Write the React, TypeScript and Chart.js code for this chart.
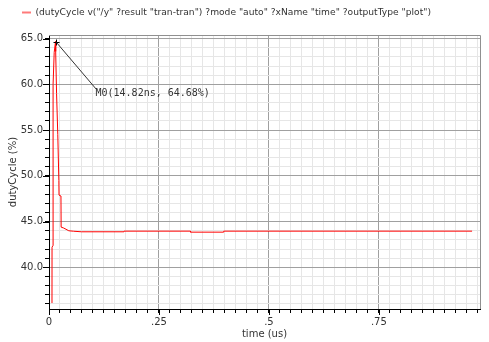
import React, { useEffect, useRef } from "react";
import { Chart, registerables } from "chart.js";

Chart.register(...registerables);

// ---- data ----
const timeUs = [
  0.0068, 0.0069, 0.0091, 0.0093, 0.0118, 0.01482, 0.0152, 0.0172, 0.02, 0.0224,
  0.0228, 0.0272, 0.0276, 0.0335, 0.045, 0.056, 0.074, 0.1705, 0.1707, 0.3216,
  0.3218, 0.3971, 0.3973, 0.962,
];
const dutyPct = [
  36.1, 42.2, 42.4, 60.0, 63.5, 64.68, 63.6, 59.0, 54.5, 49.5,
  47.9, 47.8, 44.4, 44.3, 44.0, 43.95, 43.89, 43.89, 43.96, 43.96,
  43.85, 43.85, 43.96, 43.96,
];
const xMajorTicks = [0, 0.25, 0.5, 0.75];
const xMajorLabels = ["0", ".25", ".5", ".75"];
const yMajorTicks = [40, 45, 50, 55, 60, 65];
const yMajorLabels = ["40.0", "45.0", "50.0", "55.0", "60.0", "65.0"];
const legendText =
  '(dutyCycle v("/y" ?result "tran-tran") ?mode "auto" ?xName "time" ?outputType "plot")';
const markerTime = 0.01482;
const markerValue = 64.68;
const markerText = "M0(14.82ns, 64.68%)";

const X_MIN = 0;
const X_MAX = 0.98;
const Y_MIN = 35.45;
const Y_MAX = 65.4;

const near = (a: number, b: number) => Math.abs(a - b) < 1e-6;
const xMajorIndex = (v: number) => xMajorTicks.findIndex((m) => near(m, v));
const yMajorIndex = (v: number) => yMajorTicks.findIndex((m) => near(m, v));

const MAJOR_GRID = "#a0a0a0";
const MINOR_GRID = "#e6e6e6";
const TEXT = "#333333";
const SANS = "'DejaVu Sans', sans-serif";

const overlayPlugin = {
  id: "overlay",
  afterDraw(chart: any) {
    const ctx = chart.ctx as CanvasRenderingContext2D;
    const { left, right, top, bottom } = chart.chartArea;
    const xs = chart.scales.x;
    const ys = chart.scales.y;
    ctx.save();
    // top / right frame
    ctx.strokeStyle = "#909090";
    ctx.lineWidth = 1;
    ctx.beginPath();
    ctx.moveTo(left, top + 0.5);
    ctx.lineTo(right + 0.5, top + 0.5);
    ctx.lineTo(right + 0.5, bottom);
    ctx.stroke();

    // longer major tick marks
    ctx.strokeStyle = "#000000";
    ctx.beginPath();
    xMajorTicks.forEach((v) => {
      const px = Math.round(xs.getPixelForValue(v)) + 0.5;
      ctx.moveTo(px, bottom);
      ctx.lineTo(px, bottom + 6);
    });
    yMajorTicks.forEach((v) => {
      const py = Math.round(ys.getPixelForValue(v)) + 0.5;
      ctx.moveTo(left, py);
      ctx.lineTo(left - 6, py);
    });
    ctx.stroke();

    // legend
    ctx.strokeStyle = "#ff7a7a";
    ctx.lineWidth = 2;
    ctx.beginPath();
    ctx.moveTo(22, 12.5);
    ctx.lineTo(31, 12.5);
    ctx.stroke();
    ctx.fillStyle = TEXT;
    ctx.font = "9.15px " + SANS;
    ctx.textBaseline = "middle";
    ctx.textAlign = "left";
    ctx.fillText(legendText, 35.5, 12.5);

    // marker
    const mx = Math.round(xs.getPixelForValue(markerTime)) + 0.5;
    const my = Math.round(ys.getPixelForValue(markerValue)) + 0.5;
    ctx.strokeStyle = "#000000";
    ctx.lineWidth = 1;
    ctx.beginPath();
    ctx.moveTo(mx - 3, my);
    ctx.lineTo(mx + 3, my);
    ctx.moveTo(mx, my - 3);
    ctx.lineTo(mx, my + 3);
    ctx.stroke();
    ctx.strokeStyle = "#333333";
    ctx.beginPath();
    ctx.moveTo(mx, my);
    ctx.lineTo(mx + 40, my + 47);
    ctx.stroke();
    ctx.fillStyle = TEXT;
    ctx.font = "10px 'DejaVu Sans Mono', monospace";
    ctx.textBaseline = "middle";
    ctx.fillText(markerText, mx + 39, my + 51);
    ctx.restore();
  },
};

export default function App() {
  const ref = useRef<HTMLCanvasElement | null>(null);

  useEffect(() => {
    if (!ref.current) return;
    const points = timeUs.map((t, i) => ({ x: t, y: dutyPct[i] }));
    const chart = new Chart(ref.current, {
      type: "line",
      data: {
        datasets: [
          {
            label: legendText,
            data: points,
            borderColor: "#ff0000",
            borderWidth: 1,
            pointRadius: 0,
            tension: 0,
            fill: false,
          },
        ],
      },
      options: {
        animation: false,
        responsive: false,
        maintainAspectRatio: false,
        layout: { padding: { top: 35, right: 9, left: 0, bottom: 0 } },
        plugins: {
          legend: { display: false },
          tooltip: { enabled: false },
        },
        scales: {
          x: {
            type: "linear",
            min: X_MIN,
            max: X_MAX,
            afterBuildTicks: (scale: any) => {
              const ticks = [];
              for (let i = 0; i <= 39; i++) ticks.push({ value: Math.round(i * 25) / 1000 });
              scale.ticks = ticks;
            },
            afterFit: (scale: any) => {
              scale.height = 33;
            },
            ticks: {
              autoSkip: false,
              maxRotation: 0,
              padding: 3,
              color: TEXT,
              font: { family: SANS, size: 10 },
              callback: (v: any) => {
                const i = xMajorIndex(Number(v));
                return i >= 0 ? xMajorLabels[i] : "";
              },
            },
            grid: {
              color: (c: any) => (xMajorIndex(c.tick?.value) >= 0 ? MAJOR_GRID : MINOR_GRID),
              tickColor: "#000000",
              tickLength: 4,
            },
            border: { color: "#000000", width: 1 },
            title: {
              display: true,
              text: "time (us)",
              color: TEXT,
              font: { family: SANS, size: 10 },
              padding: { top: 0, bottom: 2 },
            },
          },
          y: {
            type: "linear",
            min: Y_MIN,
            max: Y_MAX,
            afterBuildTicks: (scale: any) => {
              const ticks = [];
              for (let v = 36; v <= 65; v++) ticks.push({ value: v });
              scale.ticks = ticks;
            },
            afterFit: (scale: any) => {
              scale.width = 49;
            },
            ticks: {
              autoSkip: false,
              padding: 2,
              color: TEXT,
              font: { family: SANS, size: 10 },
              callback: (v: any) => {
                const i = yMajorIndex(Number(v));
                return i >= 0 ? yMajorLabels[i] : "";
              },
            },
            grid: {
              color: (c: any) => (yMajorIndex(c.tick?.value) >= 0 ? MAJOR_GRID : MINOR_GRID),
              tickColor: "#000000",
              tickLength: 4,
            },
            border: { color: "#000000", width: 1 },
            title: {
              display: true,
              text: "dutyCycle (%)",
              color: TEXT,
              font: { family: SANS, size: 10 },
              padding: { top: 7, bottom: 0 },
            },
          },
        },
      },
      plugins: [overlayPlugin],
    });
    return () => chart.destroy();
  }, []);

  return (
    <div style={{ position: "fixed", left: 0, top: 0, width: 489, height: 342, background: "#fff" }}>
      <canvas ref={ref} width={489} height={342} style={{ width: 489, height: 342, display: "block" }} />
    </div>
  );
}
